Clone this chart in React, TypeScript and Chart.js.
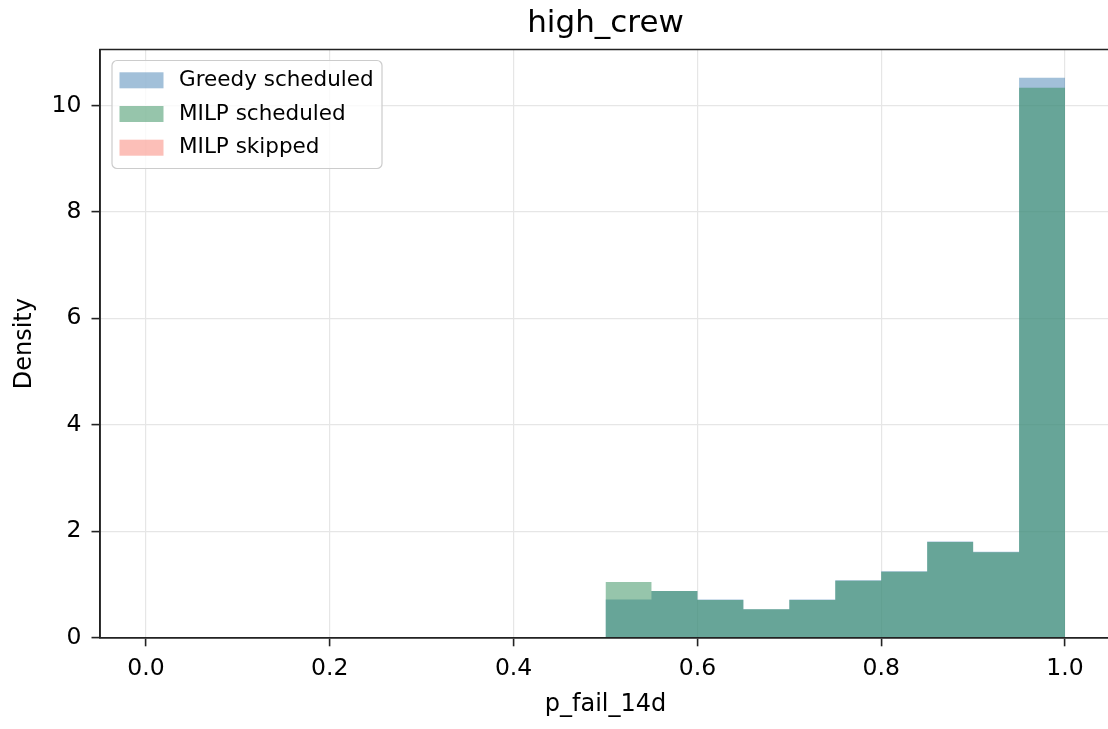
import React, { useEffect, useRef } from "react";
import { Chart, registerables } from "chart.js";

Chart.register(...registerables);

// ---- data ----
const binEdges = [0.5, 0.55, 0.6, 0.65, 0.7, 0.75, 0.8, 0.85, 0.9, 0.95, 1.0];
const greedyDensity = [0.72, 0.88, 0.72, 0.535, 0.72, 1.08, 1.25, 1.81, 1.615, 10.52];
const milpDensity = [1.05, 0.88, 0.71, 0.535, 0.71, 1.07, 1.24, 1.8, 1.605, 10.33];
const skippedDensity: number[] = []; // no skipped items in this group
const seriesLabels = ["Greedy scheduled", "MILP scheduled", "MILP skipped"];
const xTicks = [0, 0.2, 0.4, 0.6, 0.8, 1.0];
const xTickLabels = ["0.0", "0.2", "0.4", "0.6", "0.8", "1.0"];
const yTicks = [0, 2, 4, 6, 8, 10];
const yTickLabels = ["0", "2", "4", "6", "8", "10"];
const chartTitle = "high_crew";
const xTitle = "p_fail_14d";
const yTitle = "Density";

const FONT = "'DejaVu Sans', sans-serif";

function toSteps(vals: number[]) {
  if (!vals.length) return [];
  return binEdges.map((e, i) => ({ x: e, y: vals[Math.min(i, vals.length - 1)] }));
}

const mplPlugin = {
  id: "mplFrameLegend",
  afterDatasetsDraw(chart: any) {
    const { ctx, chartArea } = chart;
    const { left, right, top, bottom } = chartArea;
    ctx.save();
    // spines
    ctx.strokeStyle = "#222";
    ctx.lineWidth = 1.6;
    ctx.beginPath();
    ctx.moveTo(left, top);
    ctx.lineTo(right, top);
    ctx.lineTo(right, bottom);
    ctx.lineTo(left, bottom);
    ctx.closePath();
    ctx.stroke();

    // legend
    const lx = left + 12;
    const ly = top + 11;
    const lw = 270;
    const lh = 108;
    ctx.beginPath();
    (ctx as any).roundRect(lx, ly, lw, lh, 5);
    ctx.fillStyle = "rgba(255,255,255,0.8)";
    ctx.fill();
    ctx.strokeStyle = "#cccccc";
    ctx.lineWidth = 1.2;
    ctx.stroke();
    ctx.font = `21.5px ${FONT}`;
    ctx.textBaseline = "middle";
    ctx.textAlign = "left";
    chart.data.datasets.forEach((ds: any, i: number) => {
      const cy = ly + 19.8 + i * 33.7;
      ctx.fillStyle = ds.backgroundColor;
      ctx.fillRect(lx + 7.5, cy - 8, 44, 16);
      ctx.fillStyle = "#000";
      ctx.fillText(ds.label, lx + 67, cy);
    });
    ctx.restore();
  },
};

export default function App() {
  const ref = useRef<HTMLCanvasElement>(null);
  useEffect(() => {
    if (!ref.current) return;
    const mk = (label: string, vals: number[], color: string, order: number) => ({
      label,
      data: toSteps(vals),
      backgroundColor: color,
      borderColor: "transparent",
      borderWidth: 0,
      pointRadius: 0,
      stepped: "before",
      fill: "origin",
      order,
    });
    const chart = new Chart(ref.current, {
      type: "line",
      data: {
        datasets: [
          mk(seriesLabels[0], greedyDensity, "rgba(70,130,180,0.5)", 3),
          mk(seriesLabels[1], milpDensity, "rgba(46,139,87,0.5)", 2),
          mk(seriesLabels[2], skippedDensity, "rgba(250,128,114,0.5)", 1),
        ] as any,
      },
      options: {
        animation: false,
        responsive: false,
        maintainAspectRatio: false,
        layout: { padding: { left: 0, right: 2, top: 0, bottom: 0 } },
        plugins: {
          legend: { display: false },
          tooltip: { enabled: false },
          title: {
            display: true,
            text: chartTitle,
            fullSize: false,
            color: "#000",
            font: { family: FONT, size: 31, weight: "normal", lineHeight: 1.2 },
            padding: { top: 5.7, bottom: 6.6 },
          },
        },
        scales: {
          x: {
            type: "linear",
            min: -0.05,
            max: 1.05,
            afterBuildTicks: (s: any) => {
              s.ticks = xTicks.map((v) => ({ value: v }));
            },
            afterFit: (s: any) => {
              s.height = 91.2;
            },
            ticks: {
              autoSkip: false,
              maxRotation: 0,
              padding: 8,
              color: "#000",
              font: { family: FONT, size: 23.5 },
              callback: (_v: any, i: number) => xTickLabels[i],
            },
            grid: {
              color: "#e6e6e6",
              lineWidth: 1.2,
              tickColor: "#222",
              tickLength: 8.5,
              tickWidth: 1.6,
            },
            border: { color: "#222", width: 1.6 },
            title: {
              display: true,
              text: xTitle,
              color: "#000",
              font: { family: FONT, size: 24, lineHeight: 1.2 },
              padding: { top: 0, bottom: 9.5 },
            },
          },
          y: {
            type: "linear",
            min: 0,
            max: 11.05,
            afterBuildTicks: (s: any) => {
              s.ticks = yTicks.map((v) => ({ value: v }));
            },
            afterFit: (s: any) => {
              s.width = 100;
            },
            ticks: {
              padding: 10,
              color: "#000",
              font: { family: FONT, size: 23.5 },
              callback: (_v: any, i: number) => yTickLabels[i],
            },
            grid: {
              color: "#e6e6e6",
              lineWidth: 1.2,
              tickColor: "#222",
              tickLength: 8.5,
              tickWidth: 1.6,
            },
            border: { color: "#222", width: 1.6 },
            title: {
              display: true,
              text: yTitle,
              color: "#000",
              font: { family: FONT, size: 24, lineHeight: 1.2 },
              padding: { top: 10.5, bottom: 0 },
            },
          },
        },
      } as any,
      plugins: [mplPlugin],
    });
    return () => chart.destroy();
  }, []);

  return (
    <div
      style={{
        position: "fixed",
        left: 0,
        top: 0,
        width: 1108,
        height: 729,
        overflow: "hidden",
        background: "#fff",
      }}
    >
      <canvas ref={ref} width={1113} height={729} style={{ display: "block", width: 1113, height: 729 }} />
    </div>
  );
}
